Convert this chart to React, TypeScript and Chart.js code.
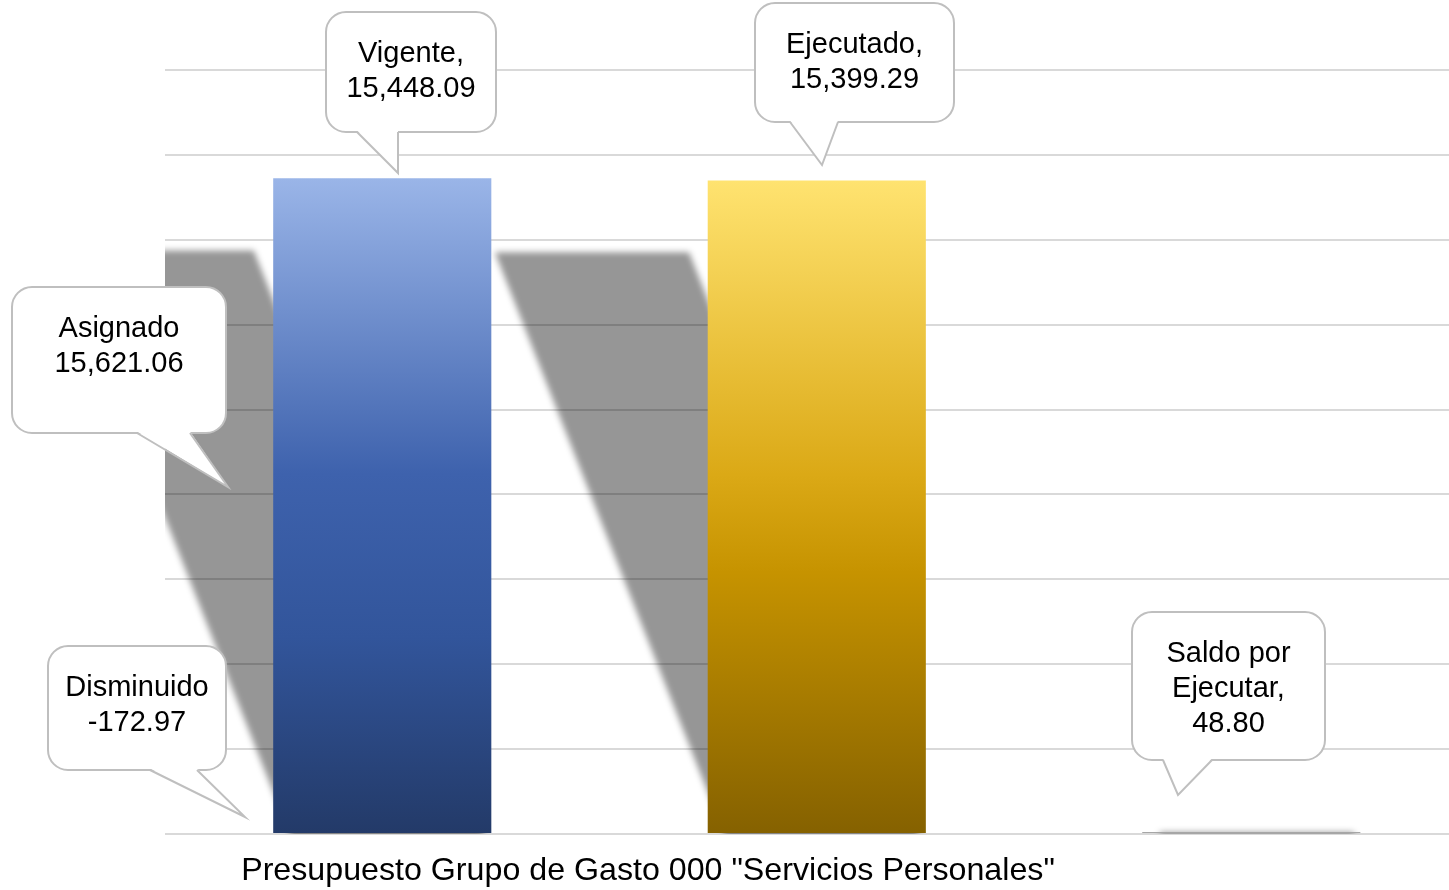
import React, { useEffect, useRef } from 'react';
import { Chart, registerables } from 'chart.js';

Chart.register(...registerables);

// ---------- data ----------
const categoryLabel = 'Presupuesto Grupo de Gasto 000 "Servicios Personales"';
const seriesNames = ['Asignado', 'Disminuido', 'Vigente', 'Ejecutado', 'Saldo por Ejecutar'];
const seriesValues = [15621.06, -172.97, 15448.09, 15399.29, 48.8];
const nameSeparators = ['', '', ',', ',', ','];
const yMin = 0;
const yMax = 18000;
const yStep = 2000;

// ---------- style / layout ----------
const FONT = '"Liberation Sans", Arial, Helvetica, sans-serif';
const xMin = 1.5;
const xMax = 4.455;
const barFlat = ['#7F9F4F', '#C0504D', '#3E62AD', '#DBA916', '#A6A6A6'];
const barStops: Array<Array<[number, string]>> = [
  [[0, '#9BBB59'], [1, '#5F7530']],
  [[0, '#D99694'], [1, '#8C3836']],
  [[0, '#9AB5E8'], [0.45, '#3E62AD'], [0.7, '#32559B'], [1, '#233A68']],
  [[0, '#FFE370'], [0.45, '#DBA916'], [0.6, '#C69300'], [1, '#856100']],
  [[0, '#A6A6A6'], [1, '#A6A6A6']],
];
const calloutLayout = [
  { box: [12, 287, 214, 146], base: [137, 190], tip: [228, 487] },
  { box: [48, 646, 178, 124], base: [150, 197], tip: [245, 817] },
  { box: [326, 12, 170, 120], base: [357, 398], tip: [398, 173] },
  { box: [755, 3, 199, 119], base: [790, 838], tip: [822, 165] },
  { box: [1132, 612, 193, 148], base: [1163, 1212], tip: [1178, 795] },
];
const titlePos = { x: 648, y: 870 };

function formatValue(v: number) {
  return v.toLocaleString('en-US', { minimumFractionDigits: 2, maximumFractionDigits: 2 });
}

function wrapName(name: string, maxLen: number) {
  const words = name.split(' ');
  const lines: string[] = [];
  let cur = '';
  for (const w of words) {
    const next = cur ? cur + ' ' + w : w;
    if (cur && next.length > maxLen) {
      lines.push(cur);
      cur = w;
    } else {
      cur = next;
    }
  }
  if (cur) lines.push(cur);
  return lines;
}

function labelLines(i: number) {
  const lines = wrapName(seriesNames[i], 10);
  lines[lines.length - 1] += nameSeparators[i];
  lines.push(formatValue(seriesValues[i]));
  return lines;
}

const decorPlugin = {
  id: 'decor',
  beforeDatasetsDraw(chart: any) {
    const ctx = chart.ctx as CanvasRenderingContext2D;
    const area = chart.chartArea;
    const meta = chart.getDatasetMeta(0);
    const base = chart.scales.y.getPixelForValue(0);
    ctx.save();
    ctx.beginPath();
    ctx.rect(area.left, area.top, area.right - area.left, area.bottom - area.top);
    ctx.clip();
    ctx.filter = 'blur(3px)';
    ctx.fillStyle = 'rgba(0,0,0,0.41)';
    meta.data.forEach((bar: any, i: number) => {
      if (seriesValues[i] <= 0) return;
      const p = bar.getProps(['x', 'y', 'width'], true);
      const left = p.x - p.width / 2;
      const h = base - p.y;
      const sh = h * 0.89;
      const topY = base - sh;
      const skew = sh * 0.397;
      const l0 = left + p.width * 0.083;
      const w0 = p.width * 0.89;
      ctx.beginPath();
      ctx.moveTo(l0, base + 4);
      ctx.lineTo(l0 + w0, base + 4);
      ctx.lineTo(l0 + w0 - skew, topY);
      ctx.lineTo(l0 - skew, topY);
      ctx.closePath();
      ctx.fill();
    });
    ctx.restore();
  },
  afterDraw(chart: any) {
    const ctx = chart.ctx as CanvasRenderingContext2D;
    ctx.save();
    calloutLayout.forEach((lay, i) => {
      const [bx, by, bw, bh] = lay.box;
      const bottom = by + bh;
      ctx.lineWidth = 2;
      ctx.strokeStyle = '#BFBFBF';
      ctx.fillStyle = '#FFFFFF';
      ctx.beginPath();
      (ctx as any).roundRect(bx, by, bw, bh, 20);
      ctx.fill();
      ctx.stroke();
      ctx.beginPath();
      ctx.moveTo(lay.base[0], bottom - 1.5);
      ctx.lineTo(lay.tip[0], lay.tip[1]);
      ctx.lineTo(lay.base[1], bottom - 1.5);
      ctx.closePath();
      ctx.fill();
      ctx.beginPath();
      ctx.moveTo(lay.base[0], bottom);
      ctx.lineTo(lay.tip[0], lay.tip[1]);
      ctx.lineTo(lay.base[1], bottom);
      ctx.lineJoin = 'miter';
      ctx.stroke();

      ctx.fillStyle = '#000000';
      ctx.font = '29px ' + FONT;
      ctx.textAlign = 'center';
      ctx.textBaseline = 'middle';
      const lines = labelLines(i);
      lines.forEach((t, k) => {
        ctx.fillText(t, bx + bw / 2, by + 42 + k * 35);
      });
    });
    ctx.fillStyle = '#000000';
    ctx.font = '32.2px ' + FONT;
    ctx.textAlign = 'center';
    ctx.textBaseline = 'middle';
    ctx.fillText(categoryLabel, titlePos.x, titlePos.y + 1);
    ctx.restore();
  },
};

export default function App() {
  const ref = useRef<HTMLCanvasElement>(null);
  useEffect(() => {
    const canvas = ref.current;
    if (!canvas) return;
    const chart = new Chart(canvas, {
      type: 'bar',
      data: {
        datasets: [
          {
            label: categoryLabel,
            data: seriesValues.map((v, i) => ({ x: i, y: v })),
            clip: 0,
            categoryPercentage: 1,
            barPercentage: 0.502,
            borderWidth: 0,
            backgroundColor: (c: any) => {
              const i = c.dataIndex;
              const chartRef = c.chart;
              const area = chartRef.chartArea;
              if (i == null) return '#999';
              if (!area || !chartRef.scales.y) return barFlat[i];
              const ys = chartRef.scales.y;
              const top = ys.getPixelForValue(Math.max(seriesValues[i], 0));
              const bottom = ys.getPixelForValue(0);
              if (bottom - top < 4) return barFlat[i];
              const g = chartRef.ctx.createLinearGradient(0, top, 0, bottom);
              barStops[i].forEach(([o, col]) => g.addColorStop(o, col));
              return g;
            },
          } as any,
        ],
      },
      options: {
        responsive: false,
        animation: false,
        events: [],
        layout: { padding: { left: 165, top: 70, right: 0, bottom: 56 } },
        plugins: {
          legend: { display: false },
          title: { display: false },
          tooltip: { enabled: false },
        },
        scales: {
          x: {
            type: 'linear',
            display: false,
            offset: false,
            min: xMin,
            max: xMax,
            afterBuildTicks: (axis: any) => {
              axis.ticks = seriesNames.map((_, i) => ({ value: i }));
            },
          },
          y: {
            type: 'linear',
            min: yMin,
            max: yMax,
            ticks: { display: false, stepSize: yStep },
            grid: { color: '#D9D9D9', lineWidth: 2, drawTicks: false },
            border: { display: false },
          },
        },
      },
      plugins: [decorPlugin],
    });
    return () => chart.destroy();
  }, []);
  return (
    <div style={{ position: 'absolute', left: 0, top: 0, width: 1449, height: 890, background: '#FFFFFF' }}>
      <canvas ref={ref} width={1449} height={890} style={{ display: 'block' }} />
    </div>
  );
}
